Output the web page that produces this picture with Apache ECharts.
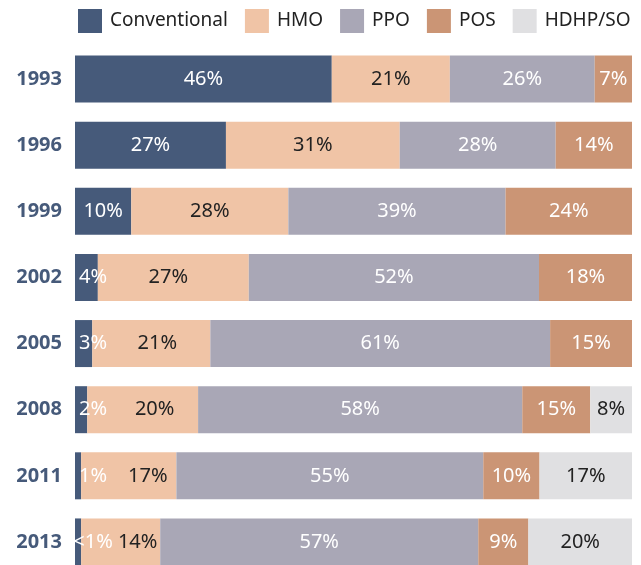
<!DOCTYPE html>
<html>
<head>
<meta charset="utf-8">
<script src="https://cdn.jsdelivr.net/npm/echarts@6/dist/echarts.min.js"></script>
<style>
  html, body { margin: 0; padding: 0; background: #fff; }
  #chart { width: 641px; height: 565px; }
</style>
</head>
<body>
<div id="chart"></div>
<script>
const years = ['1993', '1996', '1999', '2002', '2005', '2008', '2011', '2013']

// bar shares as drawn
const conventional = [46.1, 27.1, 10.1, 4.1, 3.1, 2.2, 1.1, 1.1]
const hmo = [21.2, 31.2, 28.2, 27.1, 21.2, 19.9, 17.1, 14.2]
const ppo = [26.0, 28.0, 39.0, 52.1, 61.0, 58.2, 55.1, 57.1]
const pos = [6.7, 13.7, 22.7, 16.7, 14.7, 12.2, 10.1, 9.0]
const hdhp = [0, 0, 0, 0, 0, 7.5, 16.6, 18.6]

// printed labels
const conventionalText = ['46%', '27%', '10%', '4%', '3%', '2%', '1%', '<1%']
const hmoText = ['21%', '31%', '28%', '27%', '21%', '20%', '17%', '14%']
const ppoText = ['26%', '28%', '39%', '52%', '61%', '58%', '55%', '57%']
const posText = ['7%', '14%', '24%', '18%', '15%', '15%', '10%', '9%']
const hdhpText = ['', '', '', '', '', '8%', '17%', '20%']

const chart = echarts.init(document.getElementById('chart'))

const labelFont = { fontFamily: 'Noto Sans', fontSize: 20 }

function makeSeries(name, values, texts, color, textColor) {
  return {
    name,
    type: 'bar',
    stack: 'total',
    barWidth: 47,
    itemStyle: { color },
    label: {
      show: true,
      position: 'inside',
      color: textColor,
      ...labelFont,
      formatter: p => texts[p.dataIndex]
    },
    data: values.slice()
  }
}

const convSeries = makeSeries('Conventional', conventional, conventionalText, '#465a7a', '#fff')
// small segments: label sits just right of the axis
convSeries.data = conventional.map(v => v < 8
  ? { value: v, label: { position: [18, '50%'], align: 'center', verticalAlign: 'middle' } }
  : v)

// HMO labels get pushed aside by the overflowing small labels
const hmoNudge = [0, 0, 0, -5, 6, 12, 19, 17]
const hmoSeries = makeSeries('HMO', hmo, hmoText, '#f0c4a6', '#222')
hmoSeries.data = hmo.map((v, i) => hmoNudge[i] ? { value: v, label: { offset: [hmoNudge[i], 0] } } : v)

chart.setOption({
  animation: false,
  legend: {
    top: 9,
    left: 78,
    width: 600,
    padding: 0,
    itemWidth: 24,
    itemHeight: 24,
    itemGap: 17,
    icon: 'rect',
    textStyle: { fontFamily: 'Noto Sans', fontSize: 19, color: '#222', padding: [0, 0, 0, 3] },
    data: ['Conventional', 'HMO', 'PPO', 'POS', 'HDHP/SO']
  },
  grid: { left: 75, right: 9, top: 46, height: 529, outerBoundsMode: 'none' },
  xAxis: { type: 'value', min: 0, max: 100, show: false },
  yAxis: {
    type: 'category',
    inverse: true,
    data: years,
    axisLine: { show: false },
    axisTick: { show: false },
    axisLabel: { margin: 13, color: '#465a7a', fontFamily: 'Noto Sans', fontWeight: 'bold', fontSize: 20 }
  },
  series: [
    convSeries,
    hmoSeries,
    makeSeries('PPO', ppo, ppoText, '#a9a7b6', '#fff'),
    makeSeries('POS', pos, posText, '#cb9575', '#fff'),
    makeSeries('HDHP/SO', hdhp, hdhpText, '#e0e0e2', '#222')
  ]
})
</script>
</body>
</html>
